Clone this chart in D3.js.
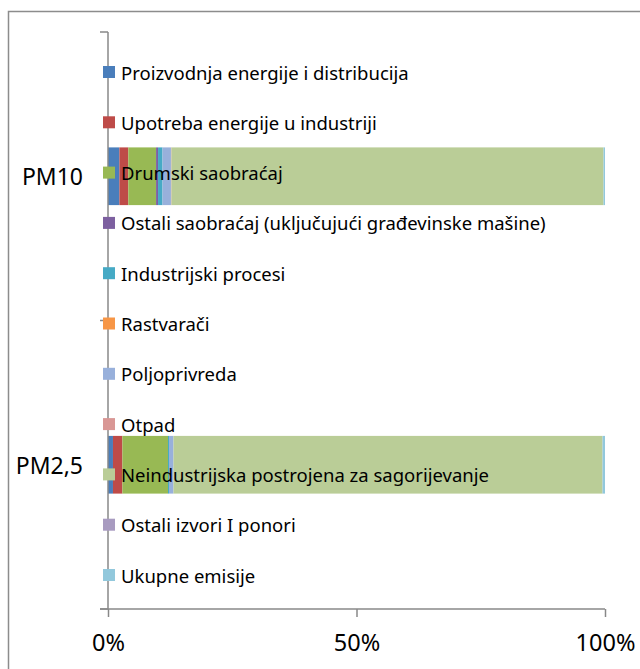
<!DOCTYPE html>
<html lang="sr">
<head>
  <meta charset="UTF-8">
  <title>PM10 / PM2,5</title>
  <script src="https://d3js.org/d3.v7.min.js"></script>
</head>
<style>
  body { margin: 0; background: #fff; }
  text { font-family: "Noto Sans", "Open Sans", sans-serif; fill: #000; }
  .axis-line { stroke: #888; stroke-width: 1.5px; fill: none; }
</style>
<body>
<svg id="chart" width="640" height="669"></svg>

<script>
  // categories (top to bottom)
  const categories = ["PM10", "PM2,5"];

  // series, in legend order
  const seriesNames = [
    "Proizvodnja energije i distribucija",
    "Upotreba energije u industriji",
    "Drumski saobraćaj",
    "Ostali saobraćaj (uključujući građevinske mašine)",
    "Industrijski procesi",
    "Rastvarači",
    "Poljoprivreda",
    "Otpad",
    "Neindustrijska postrojena za sagorijevanje",
    "Ostali izvori I ponori",
    "Ukupne emisije"
  ];
  const seriesColors = [
    "#4a7ebb", "#be4b48", "#98b954", "#7d60a0", "#46aac5", "#f79646",
    "#98b0db", "#d99795", "#bacd97", "#a89bc0", "#92c8dc"
  ];

  // shares (percent)
  const pm10 = [2.3, 1.8, 5.6, 0.4, 0.9, 0.0, 1.7, 0.1, 87.2, 0.0, 0.3];
  const pm25 = [1.0, 1.9, 9.2, 0.0, 0.2, 0.0, 0.9, 0.0, 86.5, 0.0, 0.5];

  const xTicks = [0, 0.5, 1];

  // build rows for d3.stack
  const rows = categories.map((c, i) => {
    const vals = i === 0 ? pm10 : pm25;
    const row = {category: c};
    seriesNames.forEach((s, j) => row[s] = vals[j]);
    return row;
  });

  const svg = d3.select("#chart");

  // outer chart frame (runs off the page to the right and bottom)
  svg.append("rect")
          .attr("x", 8.5).attr("y", 11.5)
          .attr("width", 700).attr("height", 700)
          .attr("fill", "none").attr("stroke", "#8c8c8c").attr("stroke-width", 1.5);

  const x = d3.scaleLinear().domain([0, 1]).range([108, 605]);
  const y = d3.scaleBand().domain(categories).range([32, 609])
          .paddingInner(0.8).paddingOuter(0.4);

  const stack = d3.stack().keys(seriesNames).offset(d3.stackOffsetExpand);
  const stacked = stack(rows);

  // bars
  svg.append("g").selectAll("g")
          .data(stacked).join("g")
          .attr("fill", (d, i) => seriesColors[i])
          .selectAll("rect")
          .data(d => d).join("rect")
          .attr("x", d => x(d[0]))
          .attr("y", d => y(d.data.category))
          .attr("width", d => Math.max(0, x(d[1]) - x(d[0])))
          .attr("height", y.bandwidth());

  // y axis with boundary ticks pointing left
  const yTickPos = [32, 320.5, 609];
  svg.append("line").attr("class", "axis-line")
          .attr("x1", 108).attr("x2", 108).attr("y1", 32).attr("y2", 609);
  svg.append("g").selectAll("line")
          .data(yTickPos).join("line")
          .attr("class", "axis-line")
          .attr("x1", 100).attr("x2", 108)
          .attr("y1", d => d).attr("y2", d => d);

  // x axis
  const xAxis = d3.axisBottom(x).tickValues(xTicks)
          .tickFormat(d3.format(".0%")).tickSize(8).tickPadding(17);
  const gx = svg.append("g").attr("transform", "translate(0,609)").call(xAxis);
  gx.select(".domain").attr("class", "axis-line").attr("d", "M100,0H605");
  gx.selectAll(".tick line").attr("class", "axis-line");
  gx.selectAll("text").attr("font-size", 23.5)
          .attr("font-family", "'Noto Sans', sans-serif").attr("fill", "#000");

  // category labels
  svg.append("g").selectAll("text")
          .data(categories).join("text")
          .attr("x", 83)
          .attr("y", d => y(d) + y.bandwidth() / 2)
          .attr("text-anchor", "end")
          .attr("dominant-baseline", "central")
          .attr("font-size", 23)
          .text(d => d);

  // legend, drawn over the plot
  const ly = d3.scalePoint().domain(seriesNames).range([72, 575]);
  const legend = svg.append("g").selectAll("g")
          .data(seriesNames).join("g")
          .attr("transform", d => `translate(103,${ly(d)})`);
  legend.append("rect")
          .attr("x", 0).attr("y", -6)
          .attr("width", 12).attr("height", 12)
          .attr("fill", (d, i) => seriesColors[i]);
  legend.append("text")
          .attr("x", 18).attr("y", 0)
          .attr("dominant-baseline", "central")
          .attr("font-size", 18.5)
          .text(d => d);
</script>
</body>
</html>
